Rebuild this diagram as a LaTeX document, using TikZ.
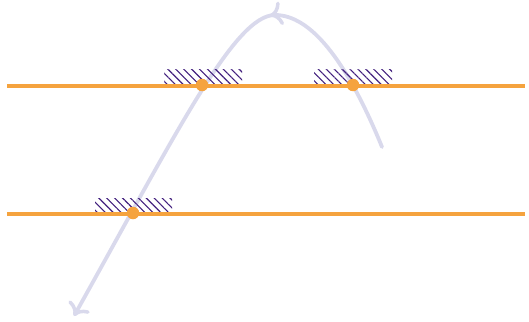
\documentclass[tikz,border=0pt]{standalone}
\usetikzlibrary{arrows.meta,patterns.meta,decorations.markings}
\definecolor{orng}{HTML}{F5A33E}
\definecolor{lav}{HTML}{D9D9EC}
\definecolor{hatchc}{HTML}{42207E}
\tikzset{
  rail/.style={draw=orng, line width=3.2pt},
  dot/.style={circle, fill=orng, inner sep=0pt, minimum size=12.5pt},
  hatchbox/.style={pattern={Lines[angle=-45, distance=5.6pt, line width=1.1pt]}, pattern color=hatchc},
  bigtip/.tip={Computer Modern Rightarrow[length=12pt,width=24pt,line width=3.5pt,line cap=round]},
  curve/.style={draw=lav, line width=3.8pt, line cap=round,
    postaction={decorate}, decoration={markings,
      mark=at position 0.335 with {\arrow{bigtip}}},
    -bigtip}
}
\begin{document}
\begin{tikzpicture}[x=1pt,y=-1pt]
\useasboundingbox (0,0) rectangle (529,321);
\coordinate (s) at (382,147);
\coordinate (apex) at (275,15);
\coordinate (e) at (74,316);
\draw[curve] (s) .. controls (346,59) and (310,15) .. (apex)
  .. controls (235,15) and (178,130) .. (e);
\path[hatchbox] (164,69) rectangle (242,86);
\path[hatchbox] (314,69) rectangle (392,86);
\path[hatchbox] (95,198) rectangle (172,214);
\coordinate (l1a) at (7,86);
\coordinate (l1b) at (525,86);
\coordinate (l2a) at (7,214);
\coordinate (l2b) at (525,214);
\draw[rail] (l1a) -- (l1b);
\draw[rail] (l2a) -- (l2b);
\node[dot] (d1) at (202,85) {};
\node[dot] (d2) at (353,85) {};
\node[dot] (d3) at (133,213) {};
\end{tikzpicture}
\end{document}
